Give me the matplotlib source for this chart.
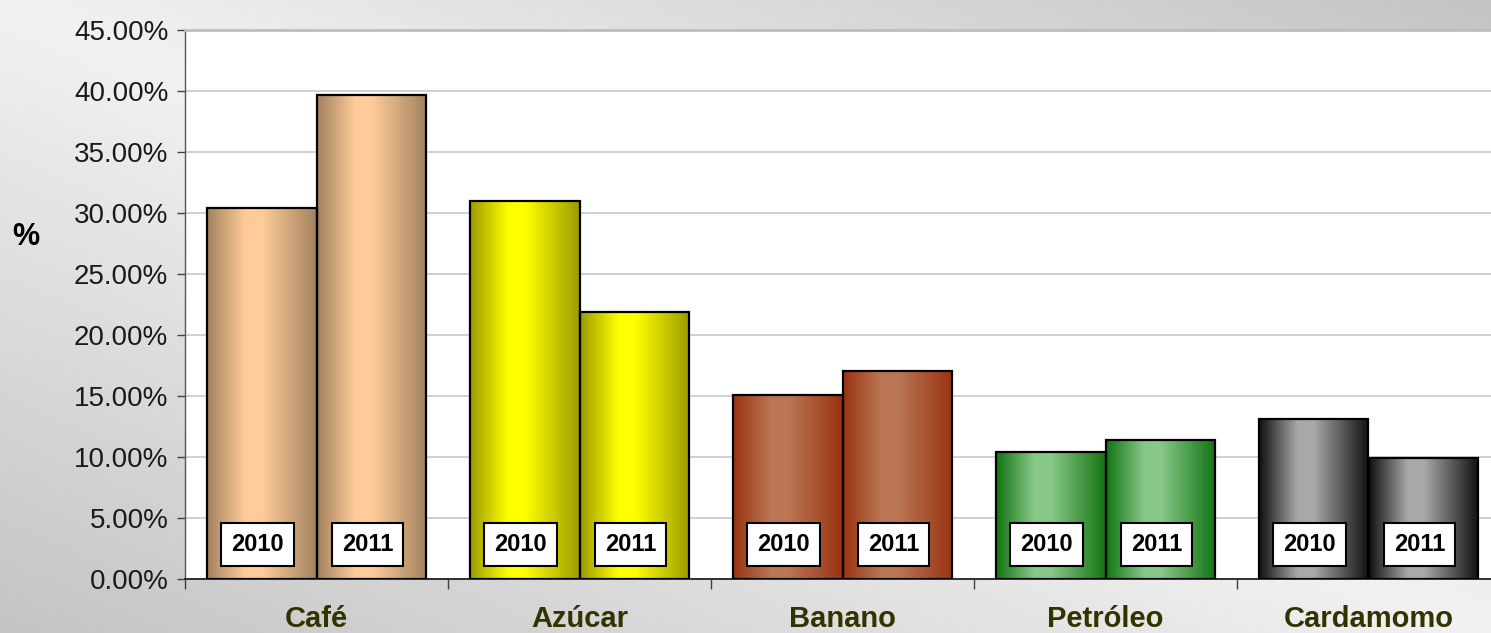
import numpy as np
import matplotlib
matplotlib.use("Agg")
import matplotlib.pyplot as plt
from matplotlib.colors import LinearSegmentedColormap
from matplotlib.ticker import FixedLocator, PercentFormatter

plt.rcParams['font.family'] = ['Liberation Sans', 'DejaVu Sans']

# data (share in %)
categories = ["Café", "Azúcar", "Banano", "Petróleo", "Cardamomo"]
years = ["2010", "2011"]
share_2010 = [30.4, 30.95, 15.1, 10.45, 13.1]
share_2011 = [39.65, 21.9, 17.05, 11.4, 9.95]

# (dark edge, light centre) per category
bar_colors = [("#a3825f", "#ffcc99"),
              ("#9c9c00", "#ffff00"),
              ("#993311", "#bb7755"),
              ("#137513", "#88c888"),
              ("#111111", "#a8a8a8")]

fig = plt.figure(figsize=(14.91, 6.33), dpi=100)

# grey diagonal gradient behind everything
bg = fig.add_axes([0, 0, 1, 1], zorder=-10)
gx, gy = np.meshgrid(np.linspace(0, 1, 300), np.linspace(0, 1, 130))
shade = 0.945 - 0.18 * np.abs(gx - gy)
bg.imshow(shade, cmap="gray", vmin=0, vmax=1, aspect="auto",
          extent=(0, 1, 0, 1), origin="upper")
bg.set_axis_off()

ax = fig.add_axes([185 / 1491, 1 - 579 / 633, (1500 - 185) / 1491, (579 - 30) / 633])
ax.set_facecolor("white")

bw = 0.418
x = np.arange(len(categories))

def gradient_bar(x0, h, dark, light):
    cmap = LinearSegmentedColormap.from_list("g", [(0, dark), (0.35, light),
                                                   (0.5, light), (1, dark)])
    grad = np.linspace(0, 1, 200).reshape(1, -1)
    ax.imshow(grad, cmap=cmap, aspect="auto", extent=(x0, x0 + bw, 0, h),
              zorder=2, interpolation="bilinear")
    ax.bar(x0, h, width=bw, align="edge", facecolor="none",
           edgecolor="black", linewidth=1.6, zorder=3)

for i, (v0, v1) in enumerate(zip(share_2010, share_2011)):
    dark, light = bar_colors[i]
    gradient_bar(x[i] - bw, v0, dark, light)
    gradient_bar(x[i], v1, dark, light)
    for xc, yr in [(x[i] - bw / 2, years[0]), (x[i] + bw / 2, years[1])]:
        ax.text(xc - 0.015, 2.85, yr, ha="center", va="center", fontsize=17,
                fontweight="bold", zorder=5,
                bbox=dict(boxstyle="square,pad=0.42", facecolor="white",
                          edgecolor="black", linewidth=1.5))

ax.set_xlim(-0.5, len(categories) - 0.5)
ax.set_ylim(0, 45)
ax.yaxis.set_major_locator(FixedLocator(np.arange(0, 46, 5)))
ax.yaxis.set_major_formatter(PercentFormatter(decimals=2))
ax.grid(axis="y", color="#c8c8c8", linewidth=1.2, zorder=0)
ax.set_axisbelow(True)

ax.set_xticks(x)
ax.set_xticklabels(categories, fontsize=21, fontweight="bold", color="#333300")
ax.set_xticks(np.arange(-0.5, len(categories), 1), minor=True)
ax.tick_params(axis="x", which="major", length=0, pad=19)
ax.tick_params(axis="x", which="minor", length=7, width=1, color="#404040", direction="out")
ax.tick_params(axis="y", labelsize=20, labelcolor="#1a1a1a", length=6,
               width=1, color="#404040", pad=6)

ax.spines["right"].set_visible(False)
ax.spines["top"].set_color("#bdbdbd")
ax.spines["top"].set_linewidth(2)
ax.spines["left"].set_color("#555555")
ax.spines["left"].set_linewidth(1)
ax.spines["bottom"].set_color("#222222")
ax.spines["bottom"].set_linewidth(1.3)

fig.text(12 / 1491, 1 - 237 / 633, "%", ha="left", va="center",
         fontsize=22, fontweight="bold", color="black")

fig.savefig("out.png", dpi=100)
